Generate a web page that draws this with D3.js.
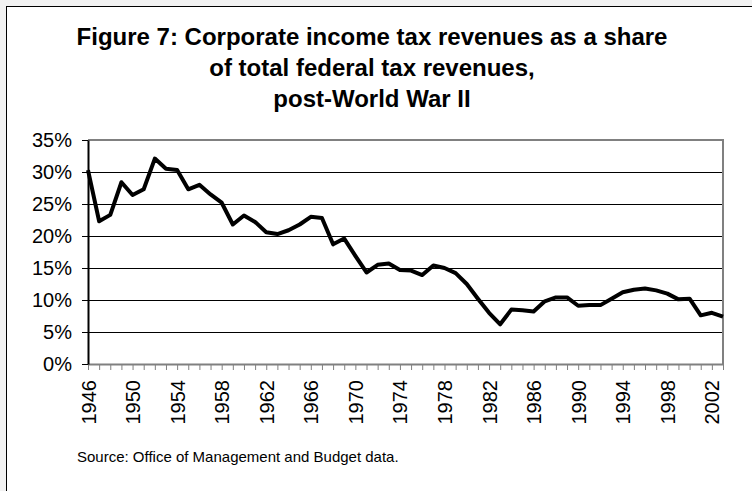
<!DOCTYPE html>
<meta charset="utf-8">
<style>
body {
  margin: 0;
  background: #f2f2f2;
}
svg {
  display: block;
  font-family: "Liberation Sans", Arial, sans-serif;
}
.title {
  font-size: 24px;
  font-weight: bold;
  text-anchor: middle;
}
.axis text {
  font-size: 20px;
  fill: #000;
}
.axis--x path, .axis--x line {
  stroke: #808080;
}
.axis--y path {
  stroke: #000;
  stroke-width: 2px;
}
.axis--y line {
  stroke: #000;
}
.grid {
  stroke: #000;
  stroke-width: 1px;
}
.line {
  fill: none;
  stroke: #000;
  stroke-width: 4px;
  stroke-linejoin: round;
}
.source {
  font-size: 15px;
}
</style>
<body>
<svg width="752" height="491"></svg>

<script src="https://d3js.org/d3.v7.min.js"></script>
<script>
var years = [1946, 1947, 1948, 1949, 1950, 1951, 1952, 1953, 1954, 1955,
             1956, 1957, 1958, 1959, 1960, 1961, 1962, 1963, 1964, 1965,
             1966, 1967, 1968, 1969, 1970, 1971, 1972, 1973, 1974, 1975,
             1976, 1977, 1978, 1979, 1980, 1981, 1982, 1983, 1984, 1985,
             1986, 1987, 1988, 1989, 1990, 1991, 1992, 1993, 1994, 1995,
             1996, 1997, 1998, 1999, 2000, 2001, 2002, 2003];

// corporate share of federal tax revenue, percent
var share = [30.3, 22.3, 23.3, 28.4, 26.4, 27.3, 32.1, 30.5, 30.3, 27.3,
             28.0, 26.5, 25.2, 21.8, 23.2, 22.2, 20.6, 20.3, 20.9, 21.8,
             23.0, 22.8, 18.7, 19.6, 16.9, 14.3, 15.5, 15.7, 14.7, 14.6,
             13.9, 15.4, 15.0, 14.2, 12.5, 10.2, 8.0, 6.2, 8.5, 8.4,
             8.2, 9.8, 10.4, 10.4, 9.1, 9.2, 9.2, 10.2, 11.2, 11.6,
             11.8, 11.5, 11.0, 10.1, 10.2, 7.6, 8.0, 7.4];

var labelYears = [1946, 1950, 1954, 1958, 1962, 1966, 1970, 1974,
                  1978, 1982, 1986, 1990, 1994, 1998, 2002];
var yTicks = [0, 5, 10, 15, 20, 25, 30, 35];
var titleLines = ["Figure 7: Corporate income tax revenues as a share",
                  "of total federal tax revenues,",
                  "post-World War II"];

var svg = d3.select("svg");
var plotLeft = 88, plotRight = 723, plotTop = 140, plotBottom = 364;

// white frame that runs off the right and bottom of the picture
svg.append("rect")
    .attr("x", 6.5).attr("y", 6.5)
    .attr("width", 800).attr("height", 600)
    .attr("fill", "#fff")
    .attr("stroke", "#000");

svg.selectAll(".title")
    .data(titleLines)
  .enter().append("text")
    .attr("class", "title")
    .attr("x", 372)
    .attr("y", function(d, i) { return 45 + i * 31; })
    .text(function(d) { return d; });

var x = d3.scalePoint().domain(years).range([plotLeft, plotRight]);
var y = d3.scaleLinear().domain([0, 35]).range([plotBottom, plotTop]);

// gridlines
svg.selectAll(".grid")
    .data(yTicks.filter(function(d) { return d > 0 && d < 35; }))
  .enter().append("line")
    .attr("class", "grid")
    .attr("x1", plotLeft).attr("x2", plotRight)
    .attr("y1", function(d) { return Math.round(y(d)) + 0.5; })
    .attr("y2", function(d) { return Math.round(y(d)) + 0.5; });

// top and right plot border
svg.append("path")
    .attr("d", "M" + plotLeft + "," + y(35) + "H" + plotRight + "V" + plotBottom)
    .attr("fill", "none")
    .attr("stroke", "#808080")
    .attr("stroke-width", 2);

svg.append("g")
    .attr("class", "axis axis--x")
    .attr("transform", "translate(0," + plotBottom + ")")
    .call(d3.axisBottom(x)
        .tickSize(6)
        .tickSizeOuter(0)
        .tickFormat(function(d) { return labelYears.indexOf(d) >= 0 ? d : ""; }))
    .call(function(g) { g.select(".domain").attr("stroke-width", 2); })
  .selectAll("text")
    .attr("transform", "rotate(-90)")
    .attr("text-anchor", "end")
    .attr("x", -16)
    .attr("y", 0)
    .attr("dy", "0.35em");

svg.append("g")
    .attr("class", "axis axis--y")
    .attr("transform", "translate(" + plotLeft + ",0)")
    .call(d3.axisLeft(y)
        .tickValues(yTicks)
        .tickSize(6)
        .tickSizeOuter(0)
        .tickPadding(10)
        .tickFormat(function(d) { return d + "%"; }));

var line = d3.line()
    .x(function(d, i) { return x(years[i]); })
    .y(function(d) { return y(d); });

svg.append("path")
    .datum(share)
    .attr("class", "line")
    .attr("d", line);

svg.append("text")
    .attr("class", "source")
    .attr("x", 77)
    .attr("y", 462)
    .text("Source: Office of Management and Budget data.");
</script>
</body>
</html>
